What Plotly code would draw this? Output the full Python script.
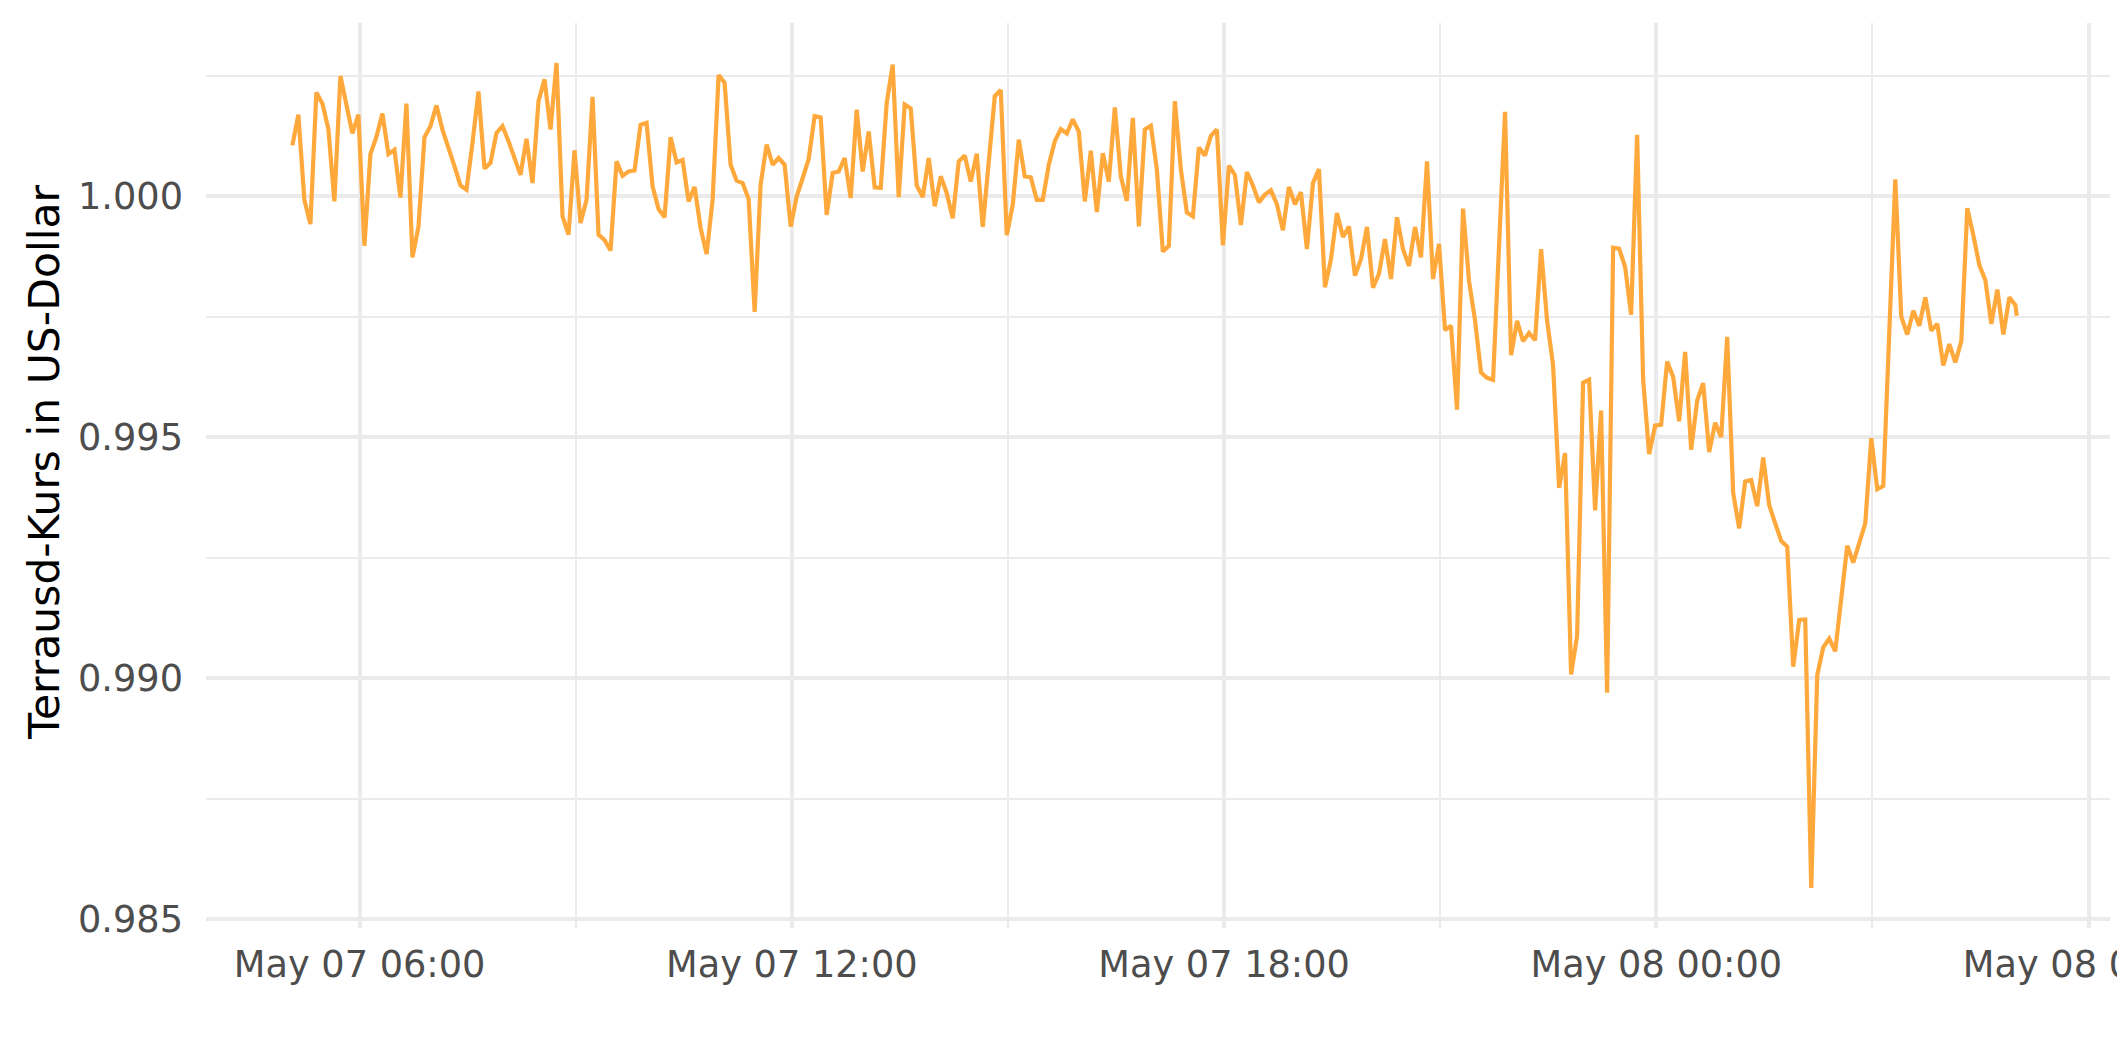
import pandas as pd
import plotly.graph_objects as go

# ---- data (TerraUSD price in USD, 5-minute steps) ----
start_time = "2022-05-07 05:04"
step_minutes = 5
last_time = "2022-05-08 05:00:10"

values = [
    1.00105, 1.00169, 0.99992, 0.99942, 1.00215, 1.00192, 1.00139, 0.99989, 1.00249, 1.00189,
    1.00130, 1.00169, 0.99897, 1.00087, 1.00123, 1.00171, 1.00087, 1.00096, 0.99997, 1.00192,
    0.99873, 0.99936, 1.00122, 1.00145, 1.00188, 1.00138, 1.00103, 1.00062, 1.00022, 1.00013,
    1.00110, 1.00217, 1.00057, 1.00069, 1.00131, 1.00145, 1.00114, 1.00077, 1.00044, 1.00119,
    1.00027, 1.00197, 1.00242, 1.00138, 1.00276, 0.99958, 0.99920, 1.00095, 0.99944, 0.99992,
    1.00206, 0.99920, 0.99909, 0.99887, 1.00072, 1.00042, 1.00051, 1.00053, 1.00148, 1.00152,
    1.00020, 0.99973, 0.99956, 1.00122, 1.00070, 1.00075, 0.99989, 1.00019, 0.99934, 0.99880,
    0.99992, 1.00251, 1.00235, 1.00065, 1.00032, 1.00027, 0.99994, 0.99760, 1.00024, 1.00107,
    1.00065, 1.00079, 1.00065, 0.99937, 0.99999, 1.00037, 1.00077, 1.00166, 1.00163, 0.99961,
    1.00048, 1.00051, 1.00079, 0.99996, 1.00179, 1.00051, 1.00134, 1.00018, 1.00017, 1.00193,
    1.00273, 0.99998, 1.00190, 1.00182, 1.00022, 0.99998, 1.00079, 0.99979, 1.00041, 1.00006,
    0.99954, 1.00072, 1.00084, 1.00030, 1.00088, 0.99936, 1.00075, 1.00207, 1.00220, 0.99919,
    0.99982, 1.00117, 1.00041, 1.00039, 0.99992, 0.99992, 1.00065, 1.00114, 1.00139, 1.00130,
    1.00159, 1.00134, 0.99989, 1.00094, 0.99967, 1.00089, 1.00030, 1.00184, 1.00041, 0.99990,
    1.00162, 0.99937, 1.00138, 1.00146, 1.00055, 0.99885, 0.99897, 1.00197, 1.00055, 0.99966,
    0.99958, 1.00101, 1.00084, 1.00125, 1.00138, 0.99898, 1.00063, 1.00044, 0.99940, 1.00050,
    1.00022, 0.99987, 1.00003, 1.00012, 0.99983, 0.99929, 1.00019, 0.99983, 1.00008, 0.99890,
    1.00027, 1.00056, 0.99811, 0.99869, 0.99965, 0.99915, 0.99937, 0.99835, 0.99869, 0.99936,
    0.99810, 0.99839, 0.99911, 0.99828, 0.99956, 0.99890, 0.99855, 0.99936, 0.99873, 1.00072,
    0.99828, 0.99901, 0.99722, 0.99731, 0.99557, 0.99974, 0.99824, 0.99742, 0.99634, 0.99623,
    0.99619, 0.99916, 1.00175, 0.99670, 0.99741, 0.99699, 0.99716, 0.99701, 0.99890, 0.99742,
    0.99649, 0.99395, 0.99467, 0.99008, 0.99088, 0.99613, 0.99619, 0.99348, 0.99555, 0.98970,
    0.99893, 0.99891, 0.99853, 0.99754, 1.00127, 0.99619, 0.99465, 0.99524, 0.99526, 0.99657,
    0.99625, 0.99533, 0.99677, 0.99474, 0.99576, 0.99612, 0.99469, 0.99530, 0.99500, 0.99708,
    0.99384, 0.99311, 0.99408, 0.99411, 0.99357, 0.99458, 0.99359, 0.99321, 0.99285, 0.99273,
    0.99024, 0.99121, 0.99122, 0.98565, 0.99006, 0.99064, 0.99082, 0.99056, 0.99169, 0.99275,
    0.99240, 0.99280, 0.99321, 0.99498, 0.99392, 0.99399, 0.99723, 1.00035, 0.99750, 0.99713,
    0.99762, 0.99731, 0.99790, 0.99721, 0.99735, 0.99649, 0.99693, 0.99655, 0.99699, 0.99975,
    0.99919, 0.99857, 0.99826, 0.99735, 0.99806, 0.99713, 0.99790, 0.99774, 0.99752,
]

y_ticks = [0.985, 0.990, 0.995, 1.000]
y_tick_labels = ["0.985", "0.990", "0.995", "1.000"]
y_title = "Terrausd-Kurs in US-Dollar"

times = list(pd.date_range(start_time, periods=len(values) - 1, freq=f"{step_minutes}min"))
times.append(pd.Timestamp(last_time))

# ---- figure ----
# (the html page body adds an 8px offset, margins are set to compensate)
W, H = 2125, 1062
L, R, T, B = 198, 23, 15, 142
GRID = "#EBEBEB"
TICK_FONT = dict(family="DejaVu Sans", size=36.7, color="#4D4D4D")

fig = go.Figure()
fig.add_trace(go.Scatter(
    x=times, y=values, mode="lines",
    line=dict(color="#FFA83B", width=4.2),
    hoverinfo="x+y", showlegend=False,
))

fig.update_layout(
    width=W, height=H,
    margin=dict(l=L, r=R, t=T, b=B, autoexpand=False),
    paper_bgcolor="white", plot_bgcolor="white",
    font=dict(family="DejaVu Sans"),
    showlegend=False,
)

fig.update_xaxes(
    type="date",
    range=["2022-05-07 03:52:04", "2022-05-08 06:17:50"],
    tick0="2022-05-07 00:00", dtick=6 * 3600 * 1000,
    tickformat="%b %d %H:%M",
    tickfont=TICK_FONT,
    showgrid=True, gridcolor=GRID, gridwidth=4,
    minor=dict(tick0="2022-05-07 03:00", dtick=6 * 3600 * 1000, showgrid=True,
               gridcolor=GRID, gridwidth=2),
    zeroline=False, showline=False, ticks="",
    ticklabelstandoff=11,
    ticklabeloverflow="allow",
    automargin=False,
)

fig.update_yaxes(
    range=[0.98482, 1.00359],
    tickvals=y_ticks, ticktext=y_tick_labels,
    tickfont=TICK_FONT,
    showgrid=True, gridcolor=GRID, gridwidth=4,
    minor=dict(tick0=0.9875, dtick=0.005, showgrid=True, gridcolor=GRID, gridwidth=2),
    zeroline=False, showline=False, ticks="",
    ticklabelstandoff=22,
    automargin=False,
)

plot_w = W - L - R
fig.add_annotation(
    text=y_title, textangle=-90,
    xref="paper", yref="paper",
    x=(37 - L) / plot_w, y=0.514,
    xanchor="center", yanchor="middle",
    showarrow=False,
    font=dict(family="DejaVu Sans", size=42.5, color="black"),
)

fig.write_html("out.html")
